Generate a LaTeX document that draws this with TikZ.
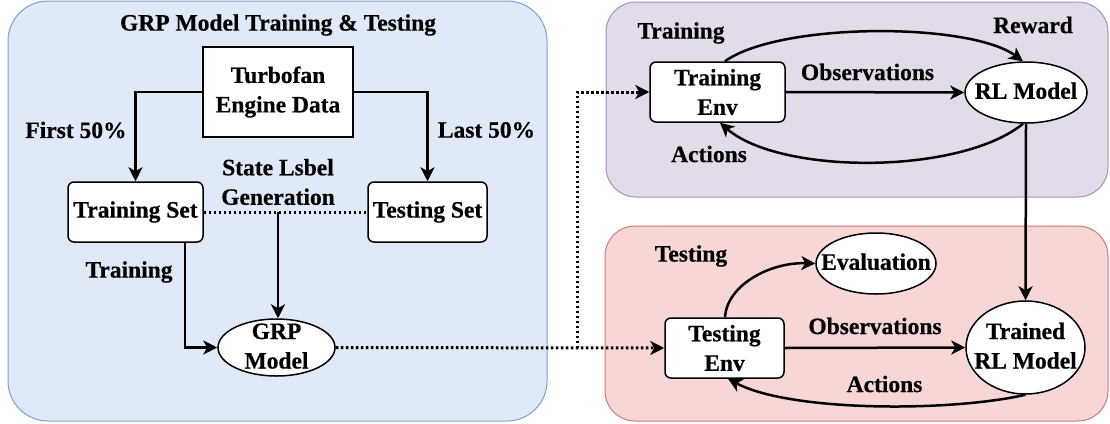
\documentclass[tikz,border=0pt]{standalone}
\usepackage{fontspec}
\setmainfont{Liberation Serif}[BoldFeatures={FakeBold=0.5}]
\usetikzlibrary{arrows.meta,shapes.geometric}
\definecolor{bluefill}{RGB}{223,233,248}
\definecolor{blueline}{RGB}{125,160,205}
\definecolor{purpfill}{RGB}{227,218,234}
\definecolor{purpline}{RGB}{170,140,190}
\definecolor{pinkfill}{RGB}{247,214,214}
\definecolor{pinkline}{RGB}{210,120,120}
\newcommand{\ztext}[1]{\makebox[0pt]{\smash{\raisebox{-0.28em}{\begin{tabular}{@{}c@{}}#1\end{tabular}}}}}
\begin{document}
\begin{tikzpicture}[x=1pt,y=-1pt,
  font=\fontsize{23.5}{29.5}\selectfont\bfseries,
  every node/.style={inner sep=2pt,align=center},
  lbl/.style={},
  sqbox/.style={draw,fill=white,line width=1.5pt,rectangle},
  rbox/.style={draw,fill=white,line width=1.5pt,rectangle,rounded corners=6pt},
  ell/.style={draw,fill=white,line width=1.5pt,ellipse,inner sep=0pt},
  arr/.style={line width=2.5pt,-{Stealth[length=14pt,width=14pt,inset=4pt]}},
  dotln/.style={line width=3pt,dash pattern=on 2.5pt off 2.5pt},
  dotarr/.style={dotln,-{Stealth[length=14pt,width=14pt,inset=4pt]}},
  panel/.style={line width=1pt,rounded corners=#1},
]
\useasboundingbox (0,0) rectangle (1110,423);
% panels
\draw[panel=40pt,fill=bluefill,draw=blueline] (8,1) rectangle (547,421);
\draw[panel=30pt,fill=purpfill,draw=purpline] (606,2) rectangle (1108,197);
\draw[panel=30pt,fill=pinkfill,draw=pinkline] (605,226) rectangle (1108,421);

% left panel nodes
\node[lbl] (title) at (278,25) {GRP Model Training \& Testing};
\node[sqbox,minimum width=150pt,minimum height=90pt] (turbo) at (278,92) {Turbofan\\Engine Data};
\node[rbox,minimum width=135pt,minimum height=60pt] (trainset) at (135.5,212) {Training Set};
\node[rbox,minimum width=119pt,minimum height=60pt] (testset) at (427.5,212) {Testing Set};
\node[lbl] (statelbl) at (278,182) {State Lsbel\\Generation};
\node[ell,minimum width=117pt,minimum height=57pt] (grp) at (276.5,347.5) {\ztext{GRP\\Model}};
\node[lbl] (first) at (76,130) {First 50\%};
\node[lbl] (last) at (486.5,130) {Last 50\%};
\node[lbl] (trainlbl) at (129,272) {Training};

% top right
\node[lbl] (trtitle) at (681,33) {Training};
\node[lbl] (reward) at (1033,25) {Reward};
\node[rbox,minimum width=135pt,minimum height=60pt] (trainenv) at (717.5,92) {Training\\Env};
\node[ell,minimum width=122pt,minimum height=61pt] (rl) at (1026,92.5) {\ztext{RL Model}};
\node[lbl] (obs1) at (867.5,72) {Observations};
\node[lbl] (act1) at (709,154) {Actions};

% bottom right
\node[lbl] (tetitle) at (691,256) {Testing};
\node[rbox,minimum width=119pt,minimum height=60pt] (testenv) at (724.5,348) {Testing\\Env};
\node[ell,minimum width=120pt,minimum height=61pt] (eval) at (876,263.5) {\ztext{Evaluation}};
\node[ell,minimum width=119pt,minimum height=93pt] (trained) at (1025.5,347.5) {\ztext{Trained\\RL Model}};
\node[lbl] (obs2) at (875,326) {Observations};
\node[lbl] (act2) at (884.5,384) {Actions};

% connectors left
\draw[arr] (turbo.west) -| (trainset.north);
\draw[arr] (turbo.east) -| (testset.north);
\draw[dotln] (trainset.east) -- (testset.west);
\coordinate (mid) at (278,212);
\draw[arr] (mid) -- (mid |- grp.north);
\draw[arr] ([xshift=49.5pt]trainset.south) |- (grp.west);
\draw[dotarr] (grp.east) -- (testenv.west);
\coordinate (br) at (577,348);
\draw[dotarr] (br) |- (trainenv.west);

% top right connectors
\draw[arr] (trainenv.east) -- (rl.west);
\draw[arr] ([xshift=7.5pt]trainenv.north) .. controls (780,22) and (970,22) .. ([xshift=-3pt]rl.north);
\draw[arr] ([xshift=-3pt]rl.south) .. controls (960,175) and (780,175) .. ([xshift=2.5pt]trainenv.south);
\draw[arr] (rl.south) -- (trained.north);

% bottom right connectors
\draw[arr] (testenv.east) -- (trained.west);
\draw[arr] ([xshift=0.5pt]testenv.north) .. controls (727,285) and (770,262) .. (eval.west);
\draw[arr] (trained.south) .. controls (950,412) and (790,412) .. ([xshift=3.5pt]testenv.south);
\end{tikzpicture}
\end{document}
